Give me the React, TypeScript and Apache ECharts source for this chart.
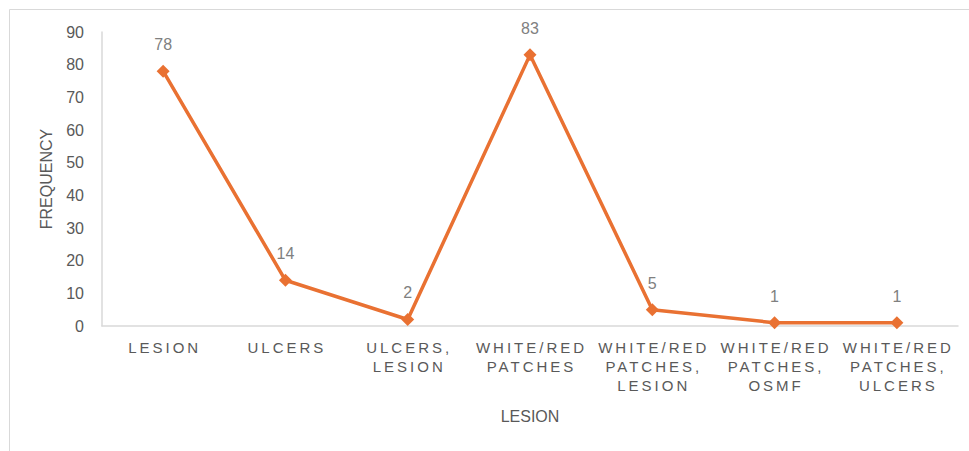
import React, { useEffect, useRef } from "react";
import * as echarts from "echarts";

// Lesion types (x axis) and how often each was recorded
const lesionTypes: string[] = [
  "LESION",
  "ULCERS",
  "ULCERS, LESION",
  "WHITE/RED PATCHES",
  "WHITE/RED PATCHES, LESION",
  "WHITE/RED PATCHES, OSMF",
  "WHITE/RED PATCHES, ULCERS",
];
const frequency: number[] = [78, 14, 2, 83, 5, 1, 1];

const yTicks = { min: 0, max: 90, interval: 10 };

const FONT = "'Liberation Sans', Arial, sans-serif";
const ORANGE = "#E97132";
const AXIS_GREY = "#D9D9D9";
const TEXT_GREY = "#595959";

export default function App() {
  const ref = useRef<HTMLDivElement>(null);

  useEffect(() => {
    document.body.style.margin = "0";
    if (!ref.current) return;
    const chart = echarts.init(ref.current, undefined, { renderer: "svg" });

    const labelLines = new Set<string>();
    lesionTypes.forEach((c) => c.split(" ").forEach((w) => labelLines.add(w)));

    chart.setOption({
      animation: false,
      backgroundColor: "#ffffff",
      textStyle: { fontFamily: FONT },
      graphic: [
        {
          type: "rect",
          shape: { x: 9.5, y: 9.5, width: 1200, height: 800 },
          style: { fill: "none", stroke: AXIS_GREY, lineWidth: 1 },
          silent: true,
        },
      ],
      grid: { left: 102, right: 11, top: 32, bottom: 125 },
      xAxis: {
        type: "category",
        data: lesionTypes,
        boundaryGap: true,
        name: "LESION",
        nameLocation: "middle",
        nameGap: 82,
        nameTextStyle: { fontSize: 16, color: TEXT_GREY, fontFamily: FONT },
        axisLine: { show: true, lineStyle: { color: AXIS_GREY, width: 1.5 } },
        axisTick: { show: false },
        axisLabel: {
          interval: 0,
          margin: 12,
          fontSize: 15,
          lineHeight: 19,
          color: TEXT_GREY,
          fontFamily: FONT,
          formatter: (v: string) => v.split(" ").join("\n"),
        },
      },
      yAxis: {
        type: "value",
        min: yTicks.min,
        max: yTicks.max,
        interval: yTicks.interval,
        name: "FREQUENCY",
        nameLocation: "middle",
        nameGap: 48,
        nameRotate: 90,
        nameTextStyle: { fontSize: 16, color: TEXT_GREY, fontFamily: FONT },
        axisLine: { show: true, lineStyle: { color: AXIS_GREY, width: 1.5 } },
        axisTick: { show: false },
        splitLine: { show: false },
        axisLabel: { margin: 18, fontSize: 16, color: TEXT_GREY, fontFamily: FONT },
      },
      series: [
        {
          type: "line",
          data: frequency,
          symbol: "diamond",
          symbolSize: 13,
          lineStyle: { color: ORANGE, width: 3.5 },
          itemStyle: { color: ORANGE },
          label: {
            show: true,
            position: "top",
            distance: 12,
            fontSize: 16,
            color: "#808080",
            fontFamily: FONT,
          },
        },
      ],
    });

    // Spread the letters of the category labels apart
    const spacing = 3;
    const texts = ref.current.querySelectorAll("text");
    texts.forEach((t) => {
      const content = (t.textContent || "").trim();
      const style = t.getAttribute("style") || "";
      if (labelLines.has(content) && style.includes("15px")) {
        t.setAttribute("letter-spacing", String(spacing));
        const x = parseFloat(t.getAttribute("x") || "0");
        t.setAttribute("x", String(x + spacing / 2));
      }
    });

    return () => chart.dispose();
  }, []);

  return <div ref={ref} style={{ width: 969, height: 451 }} />;
}
